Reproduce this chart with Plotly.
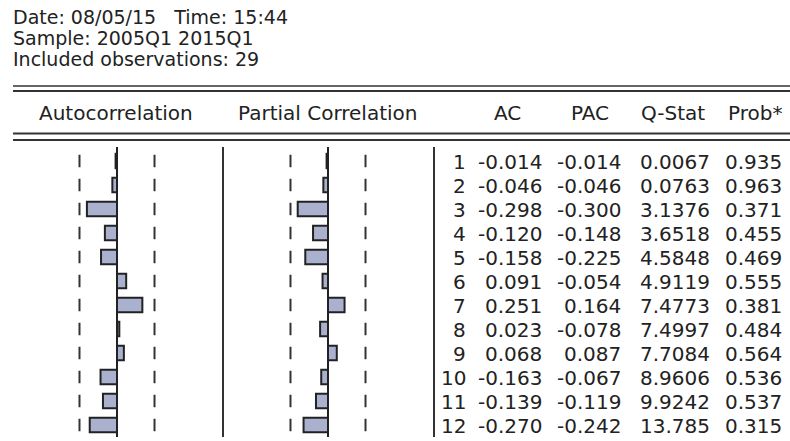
import math
import plotly.graph_objects as go

# correlogram values read from the EViews output
lags = list(range(1, 13))
ac = [-0.014, -0.046, -0.298, -0.120, -0.158, 0.091, 0.251, 0.023, 0.068, -0.163, -0.139, -0.270]
pac = [-0.014, -0.046, -0.300, -0.148, -0.225, -0.054, 0.164, -0.078, 0.087, -0.067, -0.119, -0.242]
q_stat = [0.0067, 0.0763, 3.1376, 3.6518, 4.5848, 4.9119, 7.4773, 7.4997, 7.7084, 8.9606, 9.9242, 13.785]
prob = [0.935, 0.963, 0.371, 0.455, 0.469, 0.555, 0.381, 0.484, 0.564, 0.536, 0.537, 0.315]
n_obs = 29
header_lines = ["Date: 08/05/15   Time: 15:44", "Sample: 2005Q1 2015Q1", "Included observations: 29"]
panel_titles = ["Autocorrelation", "Partial Correlation"]
col_titles = ["AC", "PAC", "Q-Stat", "Prob*"]

W, H = 790, 441
FONT = "DejaVu Sans"
FS = 20
INK = "#222222"
bound = 2 / math.sqrt(n_obs)


def fx(p):
    return p / W


def fy(p):
    return 1 - p / H


scale = 101.0  # pixels per correlation unit
top, bottom, row1, step = 147, 437, 161, 24

fig = go.Figure()

bar_kw = dict(orientation="h", width=0.6, hoverinfo="skip",
              marker=dict(color="#A9B1CE", line=dict(color=INK, width=2)))
fig.add_trace(go.Bar(x=ac, y=lags, xaxis="x", yaxis="y", **bar_kw))
fig.add_trace(go.Bar(x=pac, y=lags, xaxis="x2", yaxis="y", **bar_kw))

# dashed +-2/sqrt(n) bands, one dash per lag
dx, dy = [], []
for k in lags:
    for b in (-bound, bound):
        dx += [b, b, None]
        dy += [k - 0.26, k + 0.26, None]
for xa in ("x", "x2"):
    fig.add_trace(go.Scatter(x=dx, y=dy, xaxis=xa, yaxis="y", mode="lines",
                             line=dict(color="#333333", width=2), hoverinfo="skip"))

# zero lines and panel separators
for xa in ("x", "x2"):
    fig.add_shape(type="line", xref=xa, yref="y domain", x0=0, x1=0, y0=0, y1=1,
                  line=dict(color=INK, width=2))
for xe in (0, 1):
    fig.add_shape(type="line", xref="x2 domain", yref="y domain", x0=xe, x1=xe, y0=0, y1=1,
                  line=dict(color="#333333", width=2))

# table rules
for yy, lw in ((86, 1.5), (91, 2), (133.5, 2), (140, 2)):
    fig.add_shape(type="line", xref="paper", yref="paper", x0=fx(13), x1=1,
                  y0=fy(yy), y1=fy(yy), line=dict(color="#333333", width=lw))


def label(text, x, y, anchor="left", yref="paper", size=FS, shift=0):
    fig.add_annotation(text=text, x=x, y=y, xref="paper", yref=yref,
                       xanchor=anchor, yanchor="middle", showarrow=False,
                       borderpad=0, borderwidth=0, yshift=shift,
                       font=dict(family=FONT, size=size, color=INK))


for i, line in enumerate(header_lines):
    label(line, fx(13), fy(17 + 21 * i), size=19)

for title, cx in zip(panel_titles, (116, 328)):
    label(title, fx(cx), fy(113), "center")
for title, cx in zip(col_titles, (507, 590, 673, 755)):
    label(title, fx(cx), fy(113), "center")

for k, a, p, q, pr in zip(lags, ac, pac, q_stat, prob):
    label(str(k), fx(466), k, "right", "y", shift=-1)
    label(f"{a:.3f}", fx(542), k, "right", "y", shift=-1)
    label(f"{p:.3f}", fx(621), k, "right", "y", shift=-1)
    label(f"{q:.5g}", fx(710), k, "right", "y", shift=-1)
    label(f"{pr:.3f}", fx(782), k, "right", "y", shift=-1)

hidden = dict(visible=False, showgrid=False, zeroline=False, fixedrange=True)
fig.update_layout(
    width=W, height=H,
    margin=dict(l=0, r=0, t=0, b=0),
    paper_bgcolor="white", plot_bgcolor="white",
    showlegend=False, barmode="overlay",
    xaxis=dict(domain=[0, fx(223)], range=[-117 / scale, (223 - 117) / scale], **hidden),
    xaxis2=dict(domain=[fx(223), fx(434)], range=[-(328 - 223) / scale, (434 - 328) / scale],
                anchor="y", **hidden),
    yaxis=dict(domain=[fy(bottom), fy(top)],
               range=[12 + (bottom - (row1 + 11 * step)) / step, 1 - (row1 - top) / step],
               **hidden),
)

fig.write_html("out.html", config={"displayModeBar": False},
               post_script="document.body.style.margin='0px';document.body.style.overflow='hidden';")
